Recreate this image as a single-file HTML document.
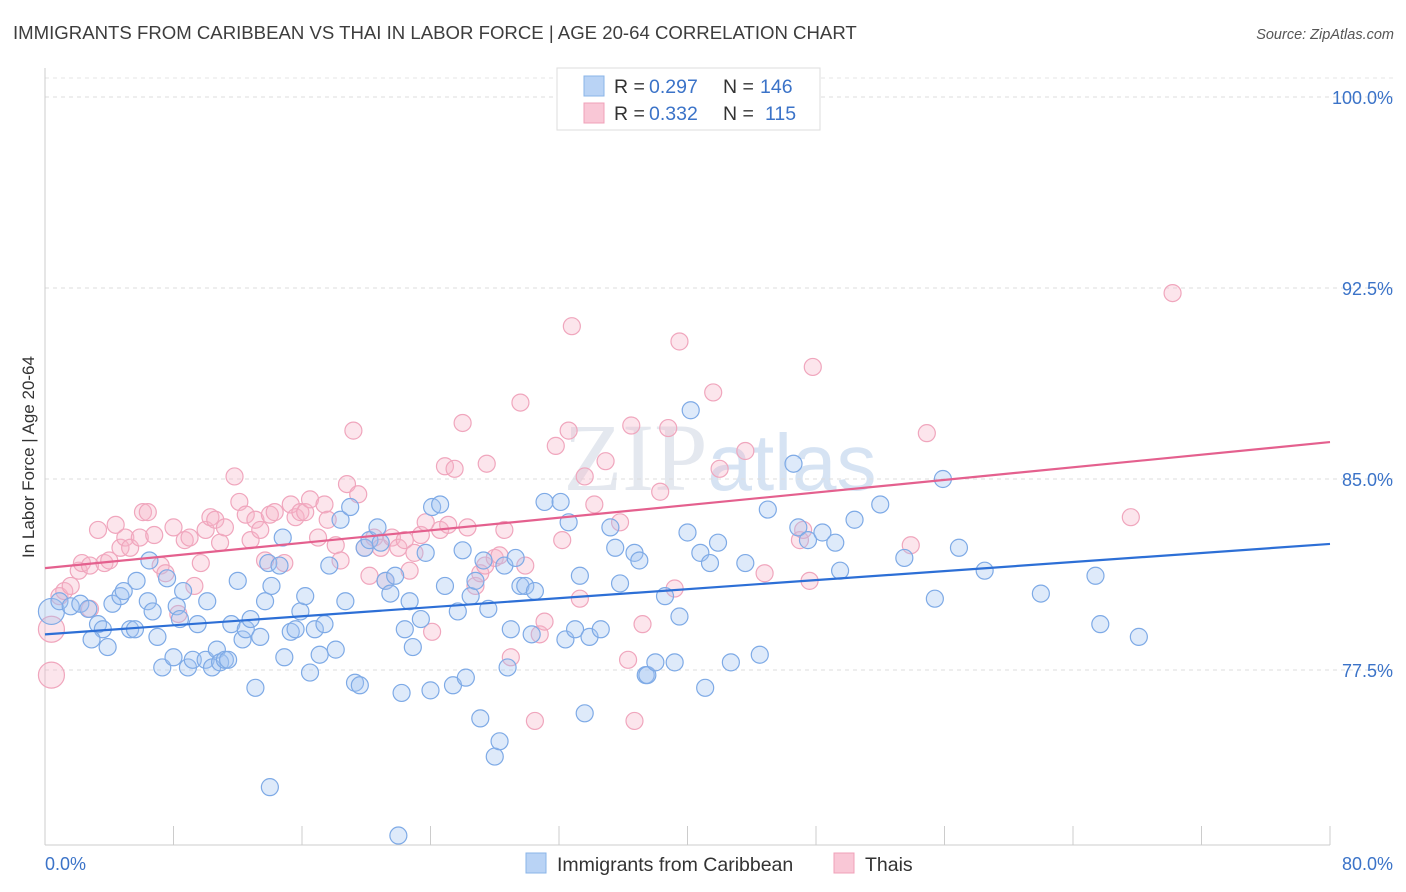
<!DOCTYPE html>
<html><head><meta charset="utf-8"><style>
body{margin:0;background:#fff;font-family:"Liberation Sans",sans-serif}
svg{display:block}
</style></head><body>
<svg id="chart" width="1406" height="892" xmlns="http://www.w3.org/2000/svg">
<text x="13" y="39" font-size="18.6" fill="#3d3d3d">IMMIGRANTS FROM CARIBBEAN VS THAI IN LABOR FORCE | AGE 20-64 CORRELATION CHART</text>
<text x="1394" y="39" font-size="14.5" fill="#555" font-style="italic" text-anchor="end">Source: ZipAtlas.com</text>
<text x="720" y="490" font-size="96" fill="#e4e8ef" text-anchor="middle" font-family="Liberation Serif,serif">ZIP<tspan fill="#d6e3f3" font-family="Liberation Sans,sans-serif" font-size="80">atlas</tspan></text>
<g id="grid"></g>
<g id="axes"></g>
<g id="points"></g>
<g id="trends"></g>
<text transform="translate(34,457) rotate(-90)" font-size="17" fill="#333" text-anchor="middle">In Labor Force | Age 20-64</text>
<text x="45" y="870" font-size="18" fill="#3b73c8">0.0%</text>
<text x="1393" y="870" font-size="18" fill="#3b73c8" text-anchor="end">80.0%</text>
<g>
<rect x="557" y="68" width="263" height="62" fill="#fff" stroke="#ddd"/>
<rect x="584" y="76" width="20" height="20" fill="#b9d3f5" stroke="#8ab4e8"/>
<rect x="584" y="103" width="20" height="20" fill="#f9c7d6" stroke="#f0a0b8"/>
<text y="93" font-size="19.5" fill="#333"><tspan x="614">R =</tspan><tspan x="649" fill="#3b73c8">0.297</tspan><tspan x="723">N =</tspan><tspan x="760" fill="#3b73c8">146</tspan></text>
<text y="120" font-size="19.5" fill="#333"><tspan x="614">R =</tspan><tspan x="649" fill="#3b73c8">0.332</tspan><tspan x="723">N =</tspan><tspan x="765" fill="#3b73c8">115</tspan></text>
</g>
<g>
<rect x="526" y="853" width="20" height="20" fill="#b9d3f5" stroke="#8ab4e8"/>
<text x="557" y="871" font-size="19.5" fill="#333">Immigrants from Caribbean</text>
<rect x="834" y="853" width="20" height="20" fill="#f9c7d6" stroke="#f0a0b8"/>
<text x="865" y="871" font-size="19.5" fill="#333">Thais</text>
</g>
</svg>
<script>
const yTicks=[100,92.5,85,77.5];
const yTickLabels=["100.0%","92.5%","85.0%","77.5%"];
const xTicks=[0,8,16,24,32,40,48,56,64,72,80];
const blueX=[0.4,0.9,1.6,2.2,2.7,3.3,3.6,2.9,3.9,4.2,4.7,4.9,5.3,5.6,5.7,6.4,6.7,7.0,7.3,7.6,8.0,8.2,8.4,8.6,8.9,9.2,9.5,10.0,10.1,10.4,10.7,10.9,11.2,11.4,11.6,12.0,12.3,12.5,12.8,13.1,13.4,13.7,13.9,14.1,14.6,14.8,14.9,15.3,15.6,15.9,16.2,16.5,16.8,17.1,17.4,17.7,18.1,18.4,18.7,19.0,19.3,19.6,19.9,20.2,20.7,20.9,21.2,21.5,21.8,22.2,22.4,22.7,22.9,23.4,23.7,24.0,24.1,24.6,24.9,25.4,25.7,26.0,26.2,26.5,26.8,27.1,27.3,27.6,28.0,28.3,28.6,28.8,29.0,29.3,29.6,29.9,30.3,30.5,31.1,32.1,32.4,32.6,33.0,33.3,33.6,33.9,34.6,35.2,35.5,35.8,36.7,37.0,37.4,37.5,38.0,38.6,39.2,39.5,40.0,40.2,40.8,41.1,41.4,41.9,42.7,43.6,44.5,45.0,46.6,46.9,47.5,48.4,49.2,49.5,50.4,52.0,53.5,55.4,55.9,56.9,58.5,62.0,65.4,65.7,68.1,14.0,22.0,6.5];
const blueY=[79.8,80.2,80.0,80.1,79.9,79.3,79.1,78.7,78.4,80.1,80.4,80.6,79.1,79.1,81.0,80.2,79.8,78.8,77.6,81.1,78.0,80.0,79.5,80.6,77.6,77.9,79.3,77.9,80.2,77.6,78.3,77.8,77.9,77.9,79.3,81.0,78.7,79.1,79.5,76.8,78.8,80.2,81.7,80.8,81.6,82.7,78.0,79.0,79.1,79.8,80.4,77.4,79.1,78.1,79.3,81.6,78.3,83.4,80.2,83.9,77.0,76.9,82.3,82.6,83.1,82.5,81.0,80.5,81.2,76.6,79.1,80.2,78.4,79.5,82.1,76.7,83.9,84.0,80.8,76.9,79.8,82.2,77.2,80.4,81.0,75.6,81.8,79.9,74.1,74.7,81.6,77.6,79.1,81.9,80.8,80.8,78.9,80.6,84.1,84.1,78.7,83.3,79.1,81.2,75.8,78.8,79.1,83.1,82.3,80.9,82.1,81.8,77.3,77.3,77.8,80.4,77.8,79.6,82.9,87.7,82.1,76.8,81.7,82.5,77.8,81.7,78.1,83.8,85.6,83.1,82.6,82.9,82.5,81.4,83.4,84.0,81.9,80.3,85.0,82.3,81.4,80.5,81.2,79.3,78.8,72.9,71.0,81.8];
const pinkX=[0.4,0.4,0.9,1.2,1.6,2.1,2.3,2.8,2.8,3.3,3.7,4.0,4.4,4.7,5.0,5.3,5.9,6.1,6.4,6.8,7.2,7.5,8.0,8.3,8.7,9.0,9.3,9.7,10.0,10.3,10.6,10.9,11.2,11.8,12.1,12.5,12.8,13.1,13.4,13.7,14.0,14.3,14.9,15.3,15.6,15.9,16.2,16.5,17.0,17.4,17.6,18.1,18.4,18.8,19.2,19.5,19.9,20.2,20.5,20.9,21.2,21.6,22.0,22.4,22.7,23.0,23.4,23.7,24.1,24.6,24.9,25.1,25.5,26.0,26.3,26.8,27.1,27.4,27.5,28.0,28.3,28.6,29.0,29.6,29.9,30.5,30.8,31.1,31.8,32.2,32.6,32.8,33.3,33.6,34.2,34.9,35.8,36.3,36.5,36.7,37.2,38.3,38.8,39.2,39.5,41.6,42.0,43.6,44.8,47.0,47.2,47.6,47.8,53.9,54.9,67.6,70.2];
const pinkY=[77.3,79.1,80.4,80.6,80.8,81.4,81.7,81.6,79.9,83.0,81.7,81.8,83.2,82.3,82.7,82.3,82.7,83.7,83.7,82.8,81.6,81.3,83.1,79.7,82.6,82.7,80.8,81.7,83.0,83.5,83.4,82.5,83.1,85.1,84.1,83.6,82.6,83.4,83.0,81.8,83.6,83.7,81.7,84.0,83.5,83.7,83.7,84.2,82.7,84.0,83.4,82.4,81.8,84.8,86.9,84.4,82.3,81.2,82.7,82.3,81.0,82.7,82.3,82.6,81.4,82.1,82.8,83.3,79.0,83.0,85.5,83.2,85.4,87.2,83.1,80.8,81.3,81.6,85.6,81.9,82.0,83.0,78.0,88.0,81.6,75.5,78.9,79.4,86.3,82.6,86.9,91.0,80.3,85.1,84.0,85.7,83.3,77.9,87.1,75.5,79.3,84.5,87.0,80.7,90.4,88.4,85.4,86.1,81.3,82.6,83.0,81.0,89.4,82.4,86.8,83.5,92.3];
const blueTrend=[78.9,82.45];
const pinkTrend=[81.5,86.45];
const NS="http://www.w3.org/2000/svg";
const X0=45,X1=1330;
function xs(v){return X0+(v/80)*(X1-X0);}
function ys(v){return 670-(v-77.5)*(191/7.5);}
function mk(t,a){const e=document.createElementNS(NS,t);for(const k in a)e.setAttribute(k,a[k]);return e;}
const grid=document.getElementById('grid');
yTicks.forEach((t,i)=>{
 const l=mk('line',{x1:X0,x2:1393,y1:ys(t),y2:ys(t),stroke:'#ddd','stroke-dasharray':'4,4'});
 
 
 grid.appendChild(l);
 const tx=mk('text',{x:1393,y:ys(t)+7,'font-size':18,fill:'#3b73c8','text-anchor':'end'});
 tx.textContent=yTickLabels[i];
 
 
 grid.appendChild(tx);
});
const topLine=mk('line',{x1:X0,x2:1393,y1:78,y2:78,stroke:'#e4e4e4','stroke-dasharray':'4,4'});


grid.appendChild(topLine);
const axes=document.getElementById('axes');
const yAxisLine=mk('line',{x1:X0,x2:X0,y1:68,y2:845,stroke:'#ccc'});


axes.appendChild(yAxisLine);
const xAxisLine=mk('line',{x1:X0,x2:X1,y1:845,y2:845,stroke:'#ccc'});


axes.appendChild(xAxisLine);
xTicks.forEach(t=>{
 const l=mk('line',{x1:xs(t),x2:xs(t),y1:826,y2:845,stroke:'#ccc'});
 
 
 axes.appendChild(l);
});
const pts=document.getElementById('points');
function drawSeries(xv,yv,fill,stroke,name){
 xv.forEach((x,i)=>{
  const big=(x<0.5);
  const c=mk('circle',{cx:xs(x),cy:ys(yv[i]),r:big?13:8.5,fill:fill,stroke:stroke,'stroke-width':1.2});
  
  
  pts.appendChild(c);
 });
}
drawSeries(pinkX,pinkY,'rgba(246,180,200,0.35)','#f0a6bd','thais-point');
drawSeries(blueX,blueY,'rgba(160,196,240,0.35)','#7eaae6','caribbean-point');
const tr=document.getElementById('trends');
const bl=mk('line',{x1:xs(0),y1:ys(blueTrend[0]),x2:xs(80),y2:ys(blueTrend[1]),stroke:'#2d6fd6','stroke-width':2.2});


tr.appendChild(bl);
const pl=mk('line',{x1:xs(0),y1:ys(pinkTrend[0]),x2:xs(80),y2:ys(pinkTrend[1]),stroke:'#e4608e','stroke-width':2.2});


tr.appendChild(pl);
</script>
</body></html>
